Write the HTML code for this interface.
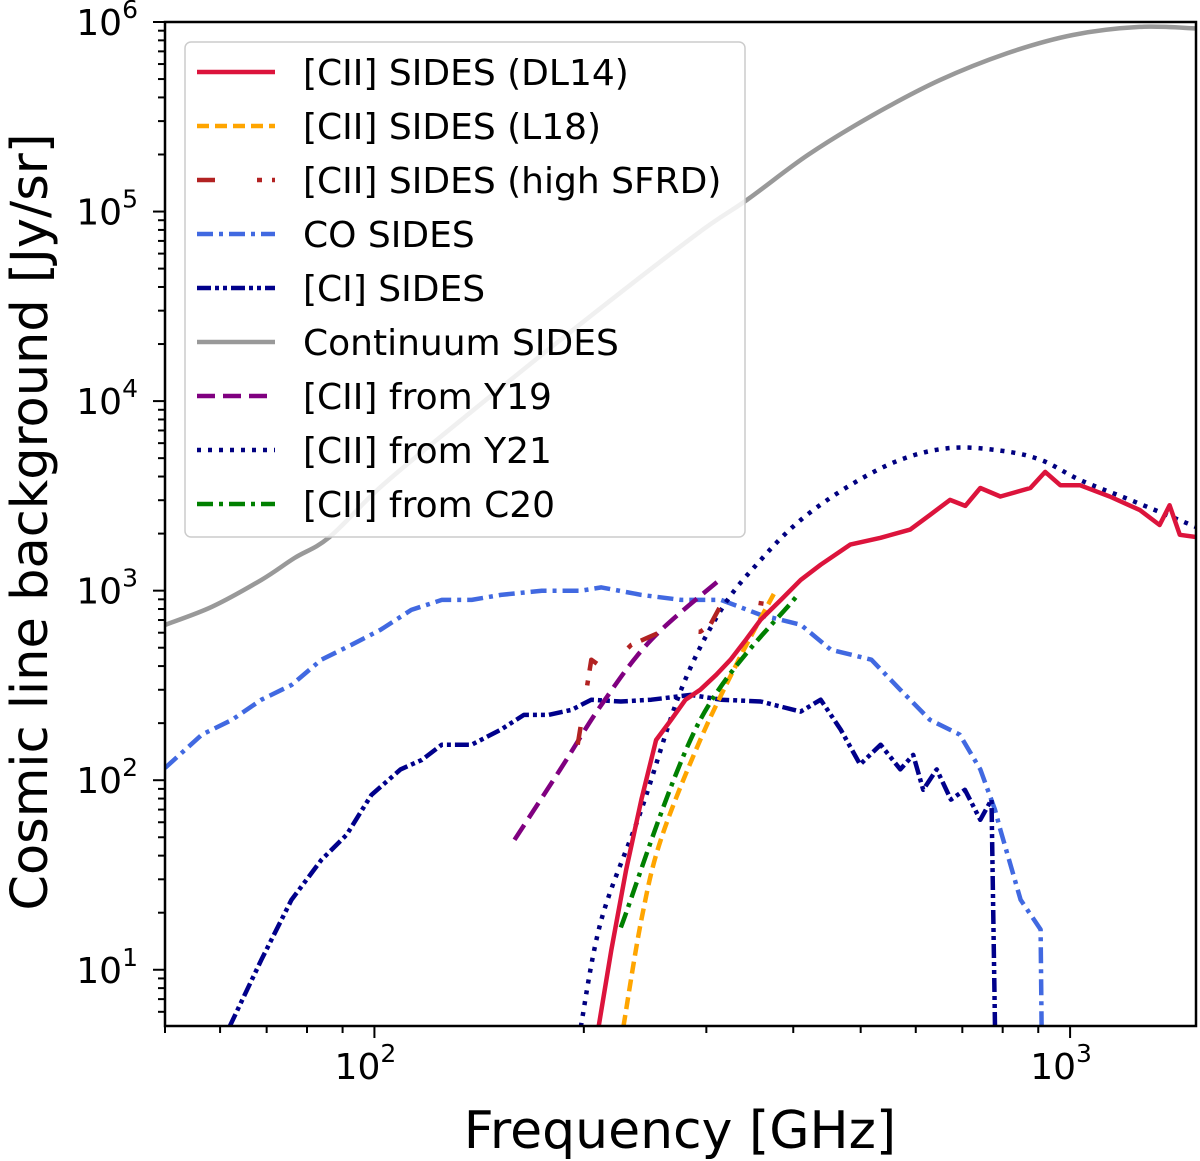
<!DOCTYPE html>
<html><head><meta charset="utf-8"><style>
html,body{margin:0;padding:0;background:#fff;}
svg{display:block;font-family:"DejaVu Sans","Liberation Sans",sans-serif;}
</style></head><body>
<svg id="chart" width="1200" height="1161" viewBox="0 0 1200 1161" xmlns="http://www.w3.org/2000/svg"></svg>
<script>
// ---- data ----
const contF=[50,58.4,68.8,76.8,85.9,101,119.5,185,287,343,420,521,650,813,1009,1259,1517];
const contV=[660,822,1140,1489,1898,3400,5730,21000,73500,115000,199000,323000,494000,685000,854000,942000,925000];
const dl14F=[210,219,230,242,254,267,280,294,310,325,342,359,384,410,438,483,534,589,629,672,707,743,794,877,921,968,1033,1140,1260,1345,1390,1438,1517];
const dl14V=[5,12.7,33.6,79,163,208,266,300,360,432,551,702,894,1140,1370,1750,1900,2100,2510,3010,2800,3480,3140,3480,4230,3600,3600,3140,2660,2220,2820,1970,1920];
const l18F=[228,242,258,294,334,375];
const l18V=[5,18.4,48.5,163,432,960];
const hsF=[196,205,215,234,262,294,304,315,334,371];
const hsV=[154,432,382,518,621,607,661,842,894,842];
const coF=[50,56.5,62.4,68.8,76,83.9,92.7,102,113,125,138,152,174,198,212,242,276,315,359,410,453,518,570,629,694,743,780,794,849,907,910];
const coV=[116,174,208,266,318,432,518,621,792,894,894,950,1000,1000,1040,950,894,894,745,661,488,432,300,208,174,114,69.8,54.7,23.4,16.3,5];
const ciF=[61.9,68.8,76,83.9,91.2,99,109,117,125,138,152,164,178,192,205,226,250,285,315,359,410,438,468,499,534,570,595,615,643,674,706,743,771,780];
const ciV=[5,11.3,23.4,38,51.5,83.7,114,128,154,154,185,221,221,235,266,260,266,282,266,260,230,266,185,121,154,114,136,89,114,79,89,61.8,79,5];
const y19F=[159,185,212,250,317];
const y19V=[48.5,114,250,551,1180];
const y21F=[198,212,242,276,315,359,410,483,570,672,794,907,1033,1220,1517];
const y21V=[5,18.4,70,300,792,1450,2360,3600,4900,5660,5480,4900,3840,3010,2170];
const c20F=[226,294,405];
const c20V=[16.7,208,940];
const xTickVals=[100,1000];
const xTickLabels=["2","3"];
const yTickVals=[10,100,1000,10000,100000,1000000];
const yTickLabels=["1","2","3","4","5","6"];

// ---- axes ----
const L=165,R=1196,T=22,B=1026;
const xMin=Math.log10(50),xMax=Math.log10(1517);
const yMin=Math.log10(5.05),yMax=6;
const X=f=>L+(Math.log10(f)-xMin)/(xMax-xMin)*(R-L);
const Y=v=>B-(Math.log10(v)-yMin)/(yMax-yMin)*(B-T);
const NS="http://www.w3.org/2000/svg";
const svg=document.getElementById('chart');
function mk(tag,attrs,parent){const e=document.createElementNS(NS,tag);for(const k in attrs)e.setAttribute(k,attrs[k]);(parent||svg).appendChild(e);return e;}

const defs=mk('defs',{});
const cp=mk('clipPath',{id:'clip'},defs);
mk('rect',{x:L,y:T,width:R-L,height:B-T},cp);
const plot=mk('g',{'clip-path':'url(#clip)'});



const ST={
 cont:['#999999',''],
 co:['#4169e1','16 6 4 6'],
 ci:['#00008b','14 4 4 4 4 4'],
 y19:['#800080','18 8'],
 y21:['#000080','4 7'],
 hs:['#b22222','18 42 5 10'],
 l18:['#ffa500','12 6'],
 c20:['#008000','16 6 4 6'],
 dl14:['#dc143c','']
};
function series(F,V,st,name,smooth){
  const P=F.map((f,i)=>[X(f),Y(V[i])]);
  let d;
  if(smooth){
    d='M'+P[0][0].toFixed(1)+','+P[0][1].toFixed(1);
    for(let i=0;i<P.length-1;i++){
      const p0=P[Math.max(0,i-1)],p1=P[i],p2=P[i+1],p3=P[Math.min(P.length-1,i+2)];
      const c1=[p1[0]+(p2[0]-p0[0])/6,p1[1]+(p2[1]-p0[1])/6];
      const c2=[p2[0]-(p3[0]-p1[0])/6,p2[1]-(p3[1]-p1[1])/6];
      d+=' C'+c1.map(v=>v.toFixed(1)).join(',')+' '+c2.map(v=>v.toFixed(1)).join(',')+' '+p2.map(v=>v.toFixed(1)).join(',');
    }
  } else d=P.map((p,i)=>(i?'L':'M')+p[0].toFixed(1)+','+p[1].toFixed(1)).join(' ');
  const p=mk('path',{d:d,fill:'none',stroke:st[0],'stroke-width':4.5,'stroke-dasharray':st[1],'stroke-linejoin':'round'},plot);
  
  
}
series(contF,contV,ST.cont,'continuum-sides-line',true);
series(coF,coV,ST.co,'co-sides-line');
series(ciF,ciV,ST.ci,'ci-sides-line');
series(y19F,y19V,ST.y19,'cii-y19-line',true);
series(y21F,y21V,ST.y21,'cii-y21-line',true);
series(hsF,hsV,ST.hs,'cii-high-sfrd-line');
series(l18F,l18V,ST.l18,'cii-l18-line',true);
series(c20F,c20V,ST.c20,'cii-c20-line',true);
series(dl14F,dl14V,ST.dl14,'cii-dl14-line');

// frame
const fr=mk('rect',{x:L,y:T,width:R-L,height:B-T,fill:'none',stroke:'#000','stroke-width':2.5});



// x ticks
for(let d=1;d<=3;d++){for(let m=1;m<10;m++){const f=m*Math.pow(10,d);if(f<50||f>1517)continue;
  const x=X(f);const len=m===1?12:7;
  const t=mk('line',{x1:x,x2:x,y1:B,y2:B+len,stroke:'#000','stroke-width':2});
  
  }}
xTickVals.forEach((v,i)=>{
  const t=mk('text',{x:X(v)-9,y:1079,'font-size':36,'text-anchor':'middle',fill:'#000'});
  
  
  t.textContent='10';
  const s=mk('tspan',{dy:-17,'font-size':25},t);s.textContent=xTickLabels[i];
});
// y ticks
for(let d=0;d<=6;d++){for(let m=1;m<10;m++){const v=m*Math.pow(10,d);if(v<5.05||v>1000001)continue;
  const y=Y(v);const len=m===1?12:7;
  const t=mk('line',{x1:L-len,x2:L,y1:y,y2:y,stroke:'#000','stroke-width':2});
  
  }}
yTickVals.forEach((v,i)=>{
  const t=mk('text',{x:138,y:Y(v)+13,'font-size':36,'text-anchor':'end',fill:'#000'});
  
  
  t.textContent='10';
  const s=mk('tspan',{dy:-17,'font-size':25},t);s.textContent=yTickLabels[i];
});
// axis titles
const xt=mk('text',{x:680,y:1148,'font-size':52,'text-anchor':'middle',fill:'#000'});


xt.textContent='Frequency [GHz]';
const yt=mk('text',{x:0,y:0,'font-size':51,'text-anchor':'middle',fill:'#000',transform:'translate(47,522) rotate(-90)'});


yt.textContent='Cosmic line background [Jy/sr]';

// legend
const lg=mk('g',{});


mk('rect',{x:185,y:42,width:560,height:495,rx:6,fill:'rgba(255,255,255,0.85)',stroke:'#ccc','stroke-width':1.5},lg);
const legItems=[
 ['[CII] SIDES (DL14)',ST.dl14],
 ['[CII] SIDES (L18)',ST.l18],
 ['[CII] SIDES (high SFRD)',ST.hs],
 ['CO SIDES',ST.co],
 ['[CI] SIDES',ST.ci],
 ['Continuum SIDES',ST.cont],
 ['[CII] from Y19',ST.y19],
 ['[CII] from Y21',ST.y21],
 ['[CII] from C20',ST.c20]];
legItems.forEach((it,i)=>{
  const y=72+i*54;
  const g=mk('g',{},lg);
  
  
  mk('line',{x1:197,x2:275,y1:y,y2:y,stroke:it[1][0],'stroke-width':4.5,'stroke-dasharray':it[1][1]},g);
  const t=mk('text',{x:303,y:y+13,'font-size':36,fill:'#000'},g);
  t.textContent=it[0];
});
</script>
</body></html>
